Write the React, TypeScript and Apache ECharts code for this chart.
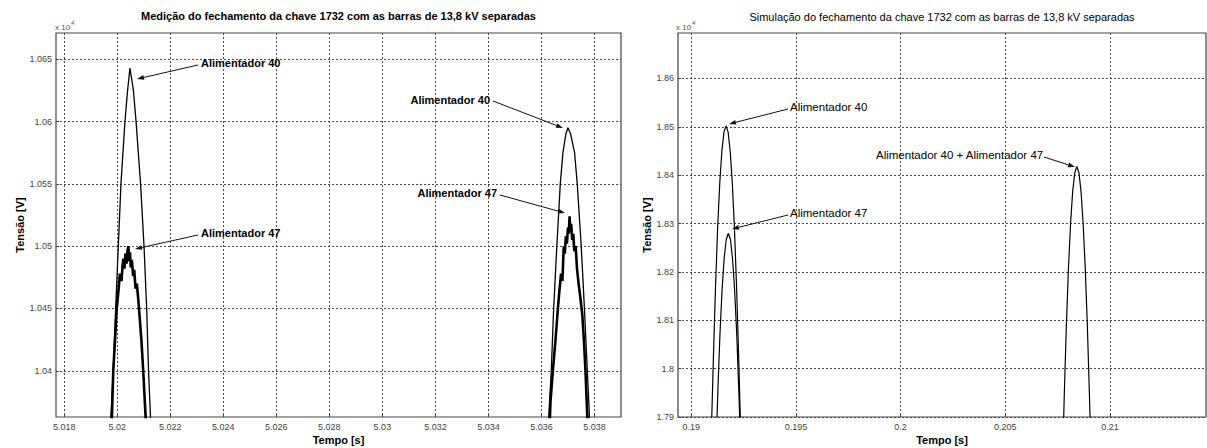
import React, { useEffect, useRef } from "react";
import * as echarts from "echarts";

const FONT = "'Liberation Sans', Arial, Helvetica, sans-serif";

// ---------- texts ----------
const measTitle = "Medição do fechamento da chave 1732 com as barras de 13,8 kV separadas";
const simTitle = "Simulação do fechamento da chave 1732 com as barras de 13,8 kV separadas";
const xName = "Tempo [s]";
const yName = "Tensão [V]";

// ---------- tick labels ----------
const measXTicks = [5.018, 5.02, 5.022, 5.024, 5.026, 5.028, 5.03, 5.032, 5.034, 5.036, 5.038];
const measYTicks = [10400, 10450, 10500, 10550, 10600, 10650];
const simXTicks = [0.19, 0.195, 0.2, 0.205, 0.21];
const simYTicks = [17900, 18000, 18100, 18200, 18300, 18400, 18500, 18600];

// ---------- measured (left) : [time s, voltage V] ----------
const measAlim40First = [
  [5.01973, 10350], [5.01985, 10400], [5.01994, 10450], [5.02004, 10500], [5.02014, 10550],
  [5.02029, 10600], [5.02039, 10625], [5.02048, 10643], [5.02061, 10625], [5.02071, 10600],
  [5.02088, 10550], [5.02101, 10500], [5.02111, 10450], [5.02118, 10400], [5.02128, 10350],
];
const measAlim40Second = [
  [5.03624, 10350], [5.03637, 10400], [5.03646, 10450], [5.03658, 10500], [5.03671, 10550],
  [5.03681, 10575], [5.03692, 10590], [5.037, 10595], [5.0371, 10590], [5.03725, 10575],
  [5.03735, 10550], [5.0375, 10500], [5.03762, 10450], [5.03773, 10400], [5.03784, 10350],
];
const measAlim47First = [
  [5.01978, 10350], [5.01985, 10400], [5.01993, 10430], [5.01998, 10450], [5.02005, 10465],
  [5.0201, 10478], [5.02016, 10472], [5.0202, 10484], [5.02023, 10490], [5.02027, 10482],
  [5.02031, 10494], [5.02035, 10486], [5.02039, 10497], [5.02042, 10500], [5.02045, 10488],
  [5.02048, 10495], [5.02051, 10483], [5.02055, 10489], [5.0206, 10476], [5.02064, 10481],
  [5.02069, 10466], [5.02074, 10470], [5.02079, 10458], [5.02082, 10450], [5.02091, 10425],
  [5.02098, 10400], [5.02107, 10363], [5.0211, 10350],
];
const measAlim47Second = [
  [5.0363, 10350], [5.03634, 10375], [5.03643, 10400], [5.03653, 10425], [5.03662, 10450],
  [5.03668, 10465], [5.03674, 10478], [5.03679, 10472], [5.03684, 10500], [5.03688, 10494],
  [5.03692, 10508], [5.03696, 10502], [5.037, 10515], [5.03703, 10510], [5.03706, 10524],
  [5.03709, 10512], [5.03712, 10518], [5.03716, 10505], [5.0372, 10510], [5.03724, 10496],
  [5.03729, 10500], [5.03734, 10482], [5.0374, 10470], [5.03746, 10460], [5.03754, 10445],
  [5.0376, 10425], [5.03766, 10400], [5.03773, 10363], [5.03776, 10350],
];

// ---------- simulated (right) : [time s, voltage V] ----------
const simAlim40 = [
  [0.19096, 17870], [0.19106, 18029], [0.19116, 18173], [0.19126, 18292], [0.19136, 18384],
  [0.19146, 18449], [0.19156, 18489], [0.19166, 18502], [0.19176, 18489], [0.19186, 18449],
  [0.19196, 18384], [0.19206, 18292], [0.19216, 18173], [0.19226, 18029], [0.19236, 17870],
];
const simAlim47 = [
  [0.19122, 17887], [0.19127, 17955], [0.19137, 18072], [0.19147, 18163], [0.19157, 18228],
  [0.19167, 18267], [0.19177, 18280], [0.19187, 18267], [0.19197, 18228], [0.19207, 18163],
  [0.19217, 18072], [0.19227, 17955], [0.19232, 17887],
];
const simAlim40Plus47 = [
  [0.20777, 17865], [0.20782, 17947], [0.20792, 18091], [0.20802, 18209], [0.20812, 18300],
  [0.20822, 18366], [0.20832, 18405], [0.20842, 18418], [0.20852, 18405], [0.20862, 18366],
  [0.20872, 18300], [0.20882, 18209], [0.20892, 18091], [0.20902, 17947], [0.20907, 17865],
];

const labelMeas40 = "Alimentador 40";
const labelMeas47 = "Alimentador 47";
const labelSum = "Alimentador 40 + Alimentador 47";

// ---------- layout ----------
const G0 = { left: 56, top: 33, width: 565, height: 384 };
const G1 = { left: 678, top: 33, width: 528, height: 384 };

function arrow(x1: number, y1: number, x2: number, y2: number) {
  const ang = Math.atan2(y2 - y1, x2 - x1);
  const L = 7, W = 2.4;
  const bx = x2 - L * Math.cos(ang), by = y2 - L * Math.sin(ang);
  const px = -Math.sin(ang) * W, py = Math.cos(ang) * W;
  return [
    { type: "line", shape: { x1, y1, x2: bx, y2: by }, style: { stroke: "#111", lineWidth: 1 }, z: 100 },
    {
      type: "polygon",
      shape: { points: [[x2, y2], [bx + px, by + py], [bx - px, by - py]] },
      style: { fill: "#111" },
      z: 100,
    },
  ];
}

function txt(text: string, x: number, y: number, opts: any = {}) {
  return {
    type: "text",
    x,
    y,
    rotation: opts.rotation || 0,
    z: 100,
    style: {
      text,
      fill: opts.fill || "#000",
      fontSize: opts.size || 11,
      fontWeight: opts.weight || "normal",
      fontFamily: FONT,
      align: opts.align || "left",
      verticalAlign: opts.valign || "middle",
    },
  };
}

const trim = (v: number, d: number) => String(+v.toFixed(d));
const gridLine = { show: true, lineStyle: { type: [2, 2], color: "#4a4a4a", width: 1 } };

function xAxisCfg(gridIndex: number, min: number, max: number, ticks: number[]) {
  return {
    type: "value",
    gridIndex,
    min,
    max,
    axisLine: { show: false },
    axisTick: { show: true, inside: true, length: 3, customValues: ticks, lineStyle: { color: "#444" } },
    axisLabel: {
      customValues: ticks,
      formatter: (v: number) => trim(v, 3),
      fontSize: 9,
      color: "#444",
      fontFamily: FONT,
      margin: 5,
    },
    splitLine: gridLine,
  };
}

function yAxisCfg(gridIndex: number, min: number, max: number, ticks: number[], d: number) {
  return {
    type: "value",
    gridIndex,
    min,
    max,
    axisLine: { show: false },
    axisTick: { show: true, inside: true, length: 3, customValues: ticks, lineStyle: { color: "#444" } },
    axisLabel: {
      customValues: ticks,
      formatter: (v: number) => trim(v / 1e4, d),
      fontSize: 9,
      color: "#444",
      fontFamily: FONT,
      margin: 4,
    },
    splitLine: gridLine,
  };
}

function lineSeries(data: number[][], idx: number, width: number) {
  return {
    type: "line",
    xAxisIndex: idx,
    yAxisIndex: idx,
    data,
    symbol: "none",
    showSymbol: false,
    clip: true,
    lineStyle: { color: "#000", width },
    z: 5,
  };
}

export default function App() {
  const ref = useRef<HTMLDivElement>(null);
  useEffect(() => {
    if (!ref.current) return;
    const chart = echarts.init(ref.current, undefined, { renderer: "svg" });
    const graphic: any[] = [
      txt(measTitle, G0.left + G0.width / 2, 16, { weight: "bold", align: "center" }),
      txt(simTitle, G1.left + G1.width / 2, 17, { align: "center" }),
      txt(xName, G0.left + G0.width / 2, 440, { weight: "bold", align: "center" }),
      txt(xName, G1.left + G1.width / 2, 440, { weight: "bold", align: "center" }),
      txt(yName, 20, G0.top + G0.height / 2, { weight: "bold", align: "center", rotation: Math.PI / 2 }),
      txt(yName, 647, G1.top + G1.height / 2, { weight: "bold", align: "center", rotation: Math.PI / 2 }),
      txt("x 10", 55, 27, { size: 8, fill: "#555" }),
      txt("4", 71, 23, { size: 6, fill: "#555" }),
      txt("x 10", 676, 27, { size: 8, fill: "#555" }),
      txt("4", 692, 23, { size: 6, fill: "#555" }),
      // left annotations
      txt(labelMeas40, 201, 63, { weight: "bold" }),
      ...arrow(198, 65, 137, 79),
      txt(labelMeas47, 201, 233, { weight: "bold" }),
      ...arrow(198, 235, 135, 249),
      txt(labelMeas40, 490, 100, { weight: "bold", align: "right" }),
      ...arrow(493, 101, 563, 128),
      txt(labelMeas47, 497, 193, { weight: "bold", align: "right" }),
      ...arrow(500, 195, 565, 213),
      // right annotations
      txt(labelMeas40, 790, 107, { size: 11.5 }),
      ...arrow(788, 109, 729, 124),
      txt(labelMeas47, 790, 213, { size: 11.5 }),
      ...arrow(788, 215, 732, 229),
      txt(labelSum, 876, 155, { size: 11.5 }),
      ...arrow(1044, 157, 1075, 167),
    ];

    chart.setOption({
      animation: false,
      backgroundColor: "#fff",
      grid: [
        { ...G0, show: true, borderColor: "#444", borderWidth: 1.2, containLabel: false },
        { ...G1, show: true, borderColor: "#444", borderWidth: 1.2, containLabel: false },
      ],
      xAxis: [
        xAxisCfg(0, 5.01769, 5.039, measXTicks),
        xAxisCfg(1, 0.189365, 0.21459, simXTicks),
      ],
      yAxis: [
        yAxisCfg(0, 10362.9, 10671.1, measYTicks, 3),
        yAxisCfg(1, 17900, 18694, simYTicks, 2),
      ],
      series: [
        lineSeries(measAlim40First, 0, 1.3),
        lineSeries(measAlim40Second, 0, 1.3),
        lineSeries(measAlim47First, 0, 2.6),
        lineSeries(measAlim47Second, 0, 2.6),
        lineSeries(simAlim40, 1, 1.2),
        lineSeries(simAlim47, 1, 1.2),
        lineSeries(simAlim40Plus47, 1, 1.2),
      ],
      graphic,
    });
    return () => chart.dispose();
  }, []);
  return (
    <div
      ref={ref}
      style={{ position: "fixed", left: 0, top: 0, width: 1207, height: 448, background: "#fff" }}
    />
  );
}
